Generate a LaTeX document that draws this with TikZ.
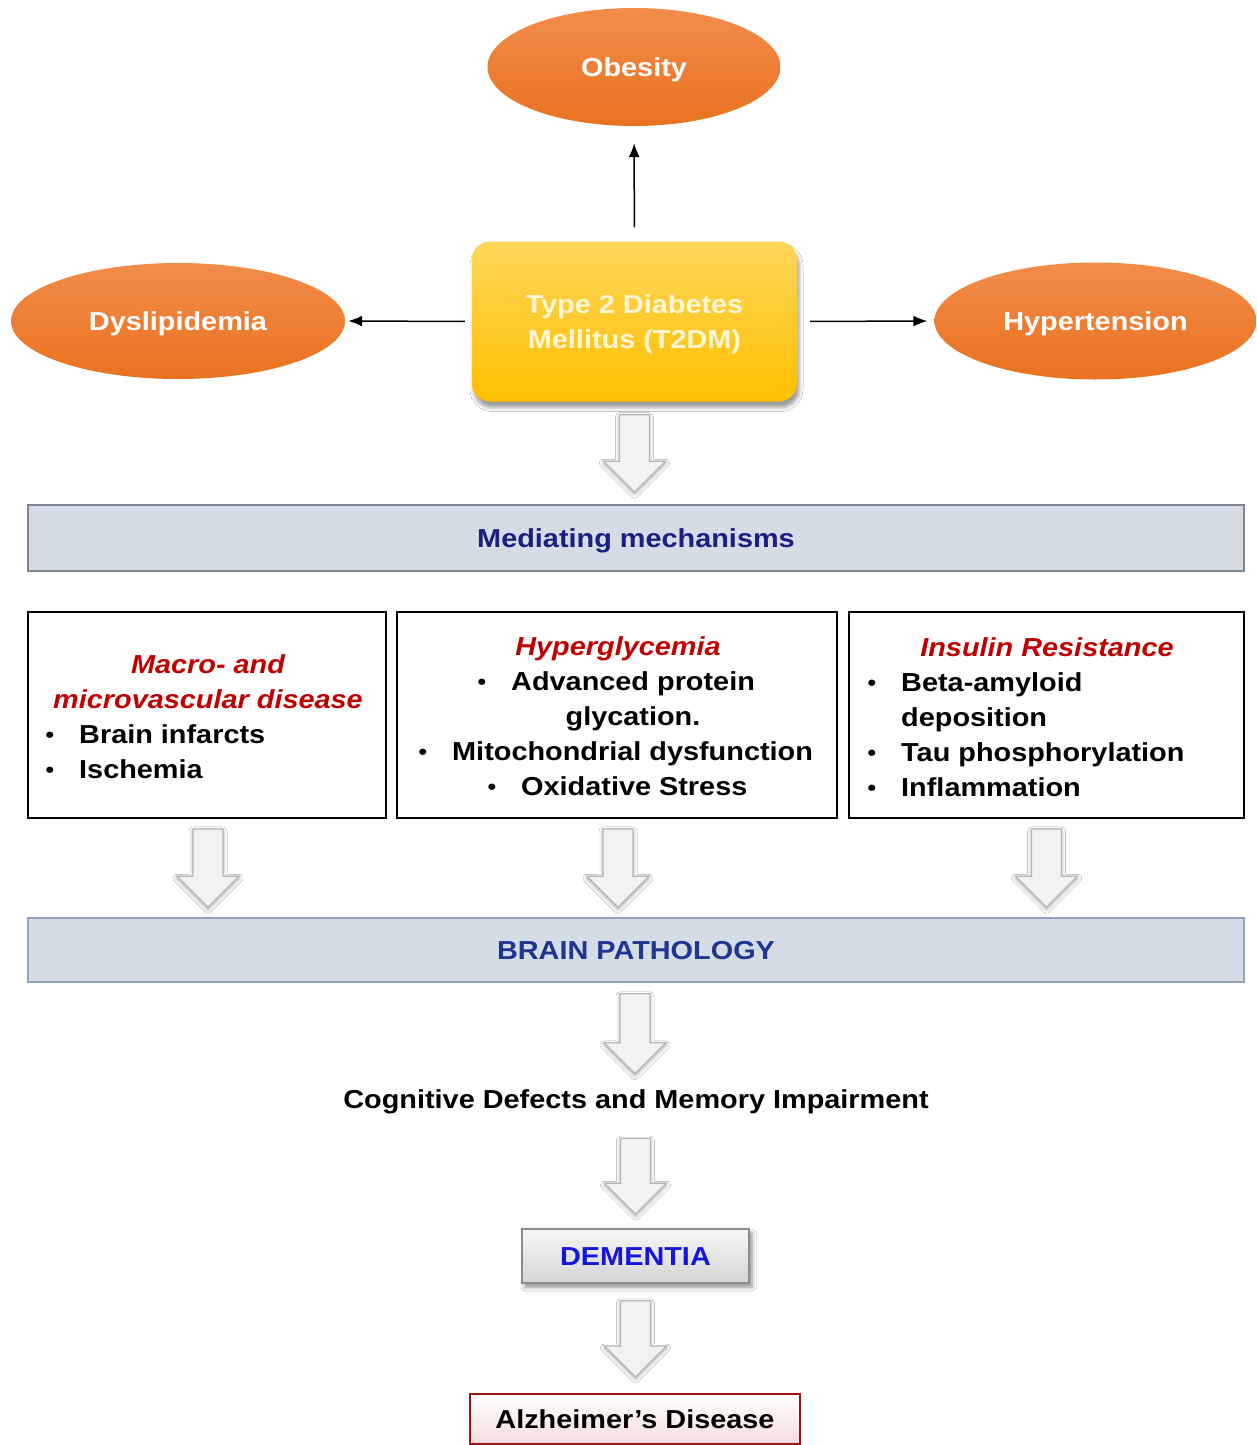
\documentclass[tikz,border=0pt]{standalone}
\usepackage{fontspec}
\setmainfont{Liberation Sans}[FakeStretch=1.11]
\usetikzlibrary{shapes.geometric,arrows.meta,calc,shadows.blur}

\definecolor{orT}{HTML}{F28C4A}
\definecolor{orB}{HTML}{E8721F}
\definecolor{yeT}{HTML}{FFD65A}
\definecolor{yeB}{HTML}{FFC000}
\definecolor{barfill}{HTML}{D6DCE5}
\definecolor{barline}{HTML}{7F8595}
\definecolor{bartwoline}{HTML}{8FA3C3}
\definecolor{navyA}{HTML}{1A1F80}
\definecolor{navyB}{HTML}{1F3590}
\definecolor{hdred}{HTML}{C00000}
\definecolor{demblue}{HTML}{1515E0}
\definecolor{adred}{HTML}{9E1414}
\definecolor{adpink}{HTML}{F6DCDC}
\definecolor{arrfill}{HTML}{F2F2F2}
\definecolor{arrline}{HTML}{B5B5B5}
\definecolor{cream}{HTML}{FFF6D5}
\definecolor{demT}{HTML}{F7F7F7}
\definecolor{demB}{HTML}{D4D4D4}
\definecolor{demline}{HTML}{8C8C8C}

\newcommand\fs{\fontsize{26pt}{35pt}\selectfont}
\newcommand\bul{\makebox[34pt][l]{\hspace{0.5pt}\raisebox{1pt}{\fontsize{22pt}{22pt}\selectfont\textbullet}}}

\tikzset{
  ell/.style={ellipse, inner sep=0pt, top color=orT, bottom color=orB, text=white, font=\fs\bfseries,
    text height=19pt, text depth=0pt},
  t2dmbox/.style={rectangle, rounded corners=18pt, top color=yeT, bottom color=yeB, text=cream,
    font=\fs\bfseries, align=center, minimum width=325pt, minimum height=160pt, text depth=0pt,
    blur shadow={shadow xshift=2pt, shadow yshift=-6pt, shadow blur radius=4pt, shadow opacity=40}},
  bar/.style={rectangle, fill=barfill, line width=1.5pt, minimum width=1216pt, font=\fs\bfseries,
    text height=19pt, text depth=0pt},
  listbox/.style={rectangle, draw=black, line width=1.8pt, fill=white, minimum height=206pt},
  hd/.style={font=\fs\bfseries\itshape, text=hdred, inner sep=0pt, anchor=base},
  itemtxt/.style={font=\fs\bfseries, inner sep=0pt, anchor=base west},
  ctrtxt/.style={font=\fs\bfseries, inner sep=0pt, anchor=base},
  thinarrow/.style={line width=1.5pt, -{Latex[length=14pt,width=11pt]}},
  barr/.style={fill=arrfill, draw=arrline, line width=1.2pt, line join=miter,
    blur shadow={shadow xshift=0pt, shadow yshift=-2pt, shadow blur radius=4pt, shadow opacity=35}},
}

\newcommand\blockarrow[2]{%
  \path[barr] let \p1=#1, \p2=#2 in
    (\x1-15pt,\y1) -- (\x1+15pt,\y1) -- (\x1+15pt,\y2+31pt) -- (\x1+31pt,\y2+31pt)
    -- (\x1,\y2) -- (\x1-31pt,\y2+31pt) -- (\x1-15pt,\y2+31pt) -- cycle;}

\begin{document}
\begin{tikzpicture}[x=1pt,y=-1pt]
\useasboundingbox (0,0) rectangle (1257,1445);
\fill[white] (0,0) rectangle (1257,1445);

% top ellipses and T2DM
\node[ell, minimum width=293pt, minimum height=118pt] (obesity) at (634,67) {Obesity};
\node[ell, minimum width=334pt, minimum height=116pt] (dys) at (178,321) {Dyslipidemia};
\node[ell, minimum width=322pt, minimum height=117pt] (hyp) at (1095.5,321) {Hypertension};
\node[t2dmbox] (t2dm) at (634.5,321.5) {Type 2 Diabetes\\Mellitus (T2DM)};

\draw[thinarrow, shorten <=14pt, shorten >=17pt] (t2dm) -- (obesity);
\draw[thinarrow, shorten <=7pt, shorten >=3pt] (t2dm.west) -- (dys.east);
\draw[thinarrow, shorten <=13pt, shorten >=7pt] (t2dm.east) -- (hyp.west);

% mediating mechanisms
\node[bar, draw=barline, minimum height=66pt, text=navyA] (mech) at (636,538) {Mediating mechanisms};
\blockarrow{($(t2dm.south)+(0,13)$)}{($(mech.north)+(0,-12)$)}

% three boxes
\node[listbox, minimum width=358pt] (box1) at (207,715) {};
\node[listbox, minimum width=440pt] (box2) at (617,715) {};
\node[listbox, minimum width=395pt] (box3) at (1046.5,715) {};

\node[hd] (h1a) at (208,673) {Macro- and};
\node[hd] (h1b) at (208,708) {microvascular disease};
\node[itemtxt] (i1a) at (45,743) {\bul Brain infarcts};
\node[itemtxt] (i1b) at (45,778) {\bul Ischemia};

\node[hd] (h2) at (618,655) {Hyperglycemia};
\node[itemtxt] (i2a) at (477,690) {\bul Advanced protein};
\node[ctrtxt] (i2b) at (633,725) {glycation.};
\node[itemtxt] (i2c) at (418,760) {\bul Mitochondrial dysfunction};
\node[itemtxt] (i2d) at (487,795) {\bul Oxidative Stress};

\node[hd] (h3) at (1047,656) {Insulin Resistance};
\node[itemtxt] (i3a) at (867,691) {\bul Beta-amyloid};
\node[itemtxt] (i3b) at (901,726) {deposition};
\node[itemtxt] (i3c) at (867,761) {\bul Tau phosphorylation};
\node[itemtxt] (i3d) at (867,796) {\bul Inflammation};

% brain pathology
\node[bar, draw=bartwoline, minimum height=64pt, text=navyB] (brain) at (636,950) {BRAIN PATHOLOGY};
\blockarrow{($(box1.south)+(1,10)$)}{($(box1.south |- brain.north)+(0,-10)$)}
\blockarrow{($(box2.south)+(1,10)$)}{($(box2.south |- brain.north)+(0,-10)$)}
\blockarrow{($(box3.south)+(0,10)$)}{($(box3.south |- brain.north)+(0,-10)$)}

% lower chain
\node[font=\fs\bfseries, inner sep=0pt, text height=19pt, text depth=0pt] (cog) at (636,1098.5) {Cognitive Defects and Memory Impairment};
\blockarrow{($(brain.south)+(-1,11)$)}{($(cog.north)+(0,-15)$)}

\node[rectangle, minimum width=227pt, minimum height=54pt, top color=demT, bottom color=demB,
      draw=demline, line width=1.5pt, text=demblue, font=\fs\bfseries, text height=19pt, text depth=0pt,
      blur shadow={shadow xshift=3pt, shadow yshift=-4pt, shadow blur radius=4pt, shadow opacity=45}] (dem) at (635.5,1256) {DEMENTIA};
\blockarrow{($(cog.south)+(-0.5,30)$)}{($(dem.north)+(0,-14)$)}

\node[rectangle, minimum width=330pt, minimum height=50pt, top color=white, bottom color=adpink,
      draw=adred, line width=2pt, font=\fs\bfseries, text height=19pt, text depth=0pt] (ad) at (635,1419) {Alzheimer’s Disease};
\blockarrow{($(dem.south)+(0,17)$)}{($(ad.north)+(0,-16)$)}
\end{tikzpicture}
\end{document}
